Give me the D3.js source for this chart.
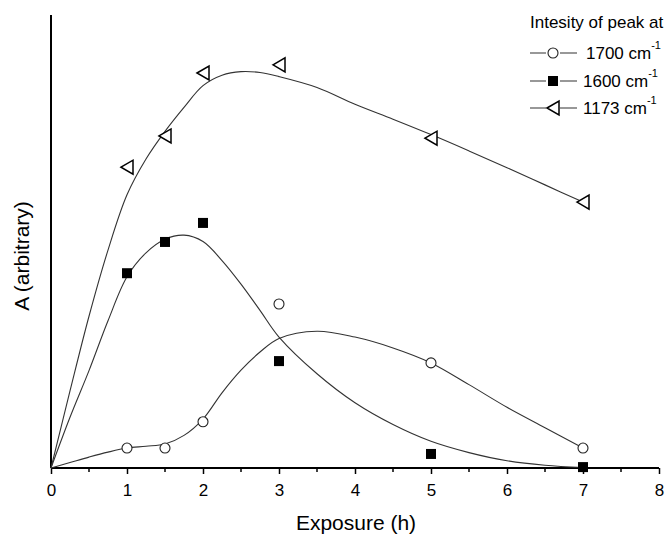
<!DOCTYPE html>
<html>
<head>
<meta charset="utf-8">
<script src="https://cdn.jsdelivr.net/npm/d3@7"></script>
<style>
  body { margin: 0; background: #fff; }
  svg { display: block; font-family: "Liberation Sans", Arial, sans-serif; }
</style>
</head>
<body>
<svg id="chart" width="668" height="536"></svg>
<script>
// ---- Data ----
const exposure = [1, 1.5, 2, 3, 5, 7];
const peak1700 = [4.4, 4.4, 10.2, 36.2, 23.2, 4.4];
const peak1600 = [43.0, 49.9, 54.1, 23.6, 3.1, 0.2];
const peak1173 = [66.4, 73.3, 87.2, 89.0, 72.8, 58.7];

// fitted curves
const fitX    = [0, 0.25, 0.5, 0.75, 1, 1.25, 1.5, 1.75, 2, 2.25, 2.5, 2.75, 3, 3.5, 4, 4.5, 5, 5.5, 6, 6.5, 7];
const fit1700 = [0, 1.2, 2.4, 3.5, 4.4, 4.8, 5.3, 7.2, 10.8, 16.6, 21.6, 25.6, 28.6, 30.2, 28.9, 26.5, 23.2, 18.4, 13.4, 8.9, 4.4];
const fit1600 = [0, 11.2, 21.5, 32.5, 42.2, 47.5, 50.5, 51.4, 50.0, 45.8, 40.6, 34.8, 28.9, 20.8, 14.4, 9.6, 5.9, 3.4, 1.6, 0.6, 0.1];
const fit1173 = [0, 17.0, 33.5, 48.1, 60.3, 68.2, 74.3, 79.6, 84.4, 86.7, 87.5, 87.3, 86.4, 84.0, 80.3, 77.0, 73.6, 70.0, 66.3, 62.5, 58.7];

const xTicks = [0, 1, 2, 3, 4, 5, 6, 7, 8];
const xMinorTicks = [0.5, 1.5, 2.5, 3.5, 4.5, 5.5, 6.5, 7.5];
const legendTitle = "Intesity of peak at";
const legendLabels = ["1700 cm", "1600 cm", "1173 cm"];

// ---- Chart ----
const svg = d3.select("#chart");
const x = d3.scaleLinear().domain([0, 8]).range([51, 659]);
const y = d3.scaleLinear().domain([0, 100]).range([468, 15]);

// y axis line (no ticks)
svg.append("line")
  .attr("x1", x(0)).attr("x2", x(0))
  .attr("y1", y(100)).attr("y2", y(0))
  .attr("stroke", "#000").attr("stroke-width", 2);

// x axis
const xAxis = svg.append("g")
  .attr("transform", `translate(0,${y(0)})`)
  .call(d3.axisBottom(x).tickValues(xTicks).tickFormat(d3.format("d")).tickSize(6).tickPadding(10));
xAxis.select(".domain").attr("stroke-width", 2).attr("d", `M${x(0)},0H${x(8)}`);
xAxis.selectAll(".tick line").attr("stroke-width", 1.5);
xAxis.selectAll(".tick text")
  .attr("font-size", 17)
  .attr("font-family", "Liberation Sans, Arial, sans-serif")
  .attr("fill", "#000");
svg.append("g")
  .attr("transform", `translate(0,${y(0)})`)
  .selectAll("line").data(xMinorTicks).join("line")
  .attr("x1", d => x(d)).attr("x2", d => x(d))
  .attr("y1", 0).attr("y2", 4)
  .attr("stroke", "#000").attr("stroke-width", 1.5);

// axis titles
svg.append("text")
  .attr("x", 356).attr("y", 530)
  .attr("text-anchor", "middle")
  .attr("font-size", 21)
  .text("Exposure (h)");
svg.append("text")
  .attr("transform", "translate(29,256) rotate(-90)")
  .attr("text-anchor", "middle")
  .attr("font-size", 21)
  .text("A (arbitrary)");

// fitted curves
const line = d3.line().x(d => x(d[0])).y(d => y(d[1])).curve(d3.curveCatmullRom.alpha(0.5));
const fits = [
  d3.zip(fitX, fit1700),
  d3.zip(fitX, fit1600),
  d3.zip(fitX, fit1173)
];
svg.append("g").selectAll("path").data(fits).join("path")
  .attr("d", line)
  .attr("fill", "none")
  .attr("stroke", "#333")
  .attr("stroke-width", 1.1);

// markers
const triPath = "M-6,0L6,-7L6,7Z";
function drawCircle(g, cx, cy) {
  g.append("circle").attr("cx", cx).attr("cy", cy).attr("r", 5)
    .attr("fill", "#fff").attr("stroke", "#222").attr("stroke-width", 1.1);
}
function drawSquare(g, cx, cy) {
  g.append("rect").attr("x", cx - 5).attr("y", cy - 5).attr("width", 10).attr("height", 10)
    .attr("fill", "#000");
}
function drawTri(g, cx, cy) {
  g.append("path").attr("d", triPath).attr("transform", `translate(${cx},${cy})`)
    .attr("fill", "#fff").attr("stroke", "#000").attr("stroke-width", 1.5)
    .attr("stroke-linejoin", "miter");
}
const mk = svg.append("g");
exposure.forEach((e, i) => {
  drawTri(mk, x(e), y(peak1173[i]));
  drawSquare(mk, x(e), y(peak1600[i]));
  drawCircle(mk, x(e), y(peak1700[i]));
});

// legend
const lg = svg.append("g");
lg.append("text").attr("x", 530).attr("y", 28).attr("font-size", 17).text(legendTitle);
const rowsY = [53, 81, 108];
const drawers = [drawCircle, drawSquare, drawTri];
const textX = [586, 583, 583];
legendLabels.forEach((lab, i) => {
  const ly = rowsY[i];
  lg.append("line").attr("x1", 530).attr("x2", 577).attr("y1", ly).attr("y2", ly)
    .attr("stroke", "#333").attr("stroke-width", 1.1);
  lg.append("rect").attr("x", 546).attr("y", ly - 7).attr("width", 14).attr("height", 14).attr("fill", "#fff");
  drawers[i](lg, 553, ly);
  const t = lg.append("text").attr("x", textX[i]).attr("y", ly + 6).attr("font-size", 17);
  t.append("tspan").text(lab);
  t.append("tspan").attr("dy", -10).attr("font-size", 11).text("-1");
});
</script>
</body>
</html>
